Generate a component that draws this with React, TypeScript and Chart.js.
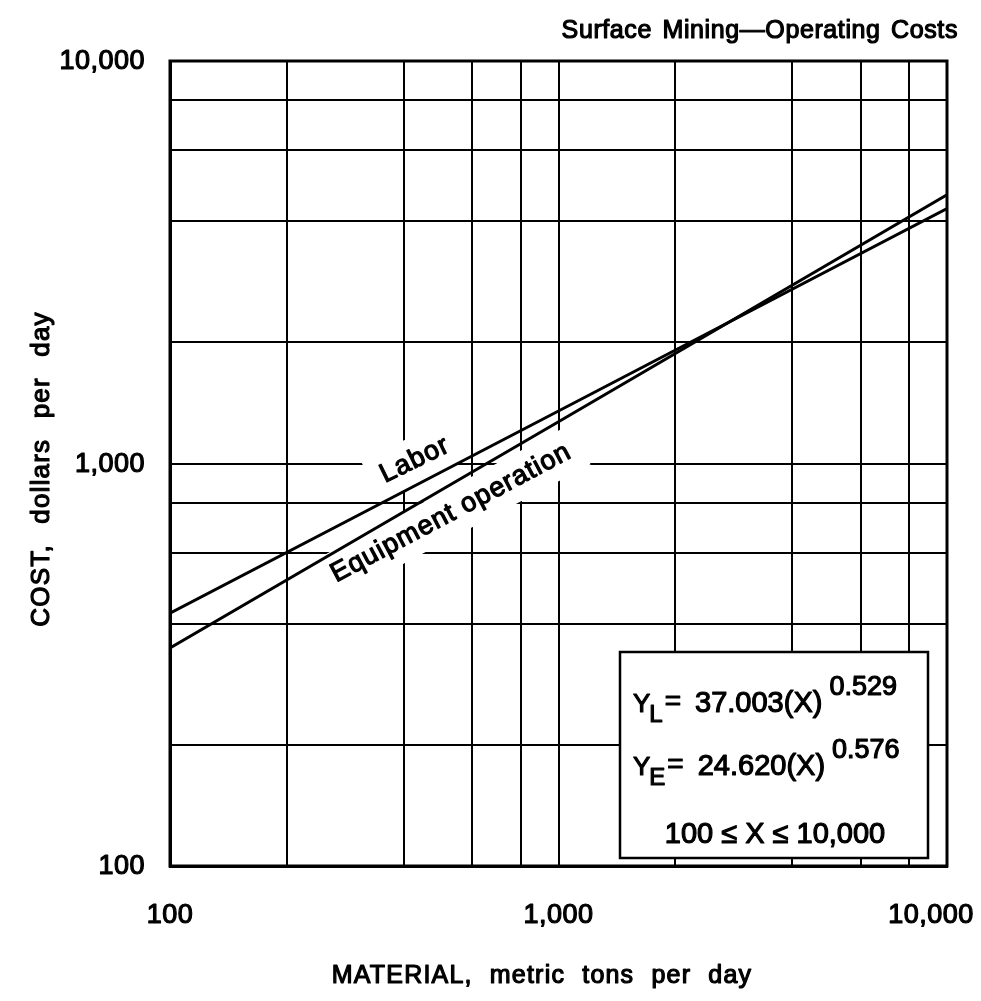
import React, { useEffect, useRef } from "react";
import { Chart, registerables } from "chart.js";

Chart.register(...registerables);

// ---- data ----
const materialTons = [100, 1000, 10000];
const laborCost = [425, 1350, 4300];
const equipmentCost = [348, 1270, 4650];

const gridTickValues = [100, 200, 400, 600, 800, 1000, 2000, 4000, 6000, 8000, 10000];
const labeledTickValues = [100, 1000, 10000];
const labeledTickTexts = ["100", "1,000", "10,000"];

const chartTitle = "Surface Mining\u2014Operating Costs";
const xAxisTitle = "MATERIAL, metric tons per day";
const yAxisTitle = "COST, dollars per day";
const curveLabels = ["Labor", "Equipment operation"];

const eqLabor = { sub: "L", coef: "37.003(X)", exp: "0.529" };
const eqEquip = { sub: "E", coef: "24.620(X)", exp: "0.576" };
const eqRange = "100 \u2264 X \u2264 10,000";

const FONT = '"Liberation Sans", Arial, sans-serif';
const W = 981;
const H = 1001;

type TextOpts = {
  size: number;
  align?: CanvasTextAlign;
  baseline?: CanvasTextBaseline;
  ls?: number;
  ws?: number;
  rot?: number;
  heavy?: number;
};

function drawText(ctx: CanvasRenderingContext2D, text: string, x: number, y: number, o: TextOpts) {
  ctx.save();
  ctx.translate(x, y);
  if (o.rot) ctx.rotate((o.rot * Math.PI) / 180);
  ctx.font = `${o.size}px ${FONT}`;
  (ctx as any).letterSpacing = `${o.ls ?? 0}px`;
  (ctx as any).wordSpacing = `${o.ws ?? 0}px`;
  ctx.textAlign = o.align ?? "left";
  ctx.textBaseline = o.baseline ?? "alphabetic";
  ctx.fillStyle = "#000";
  ctx.strokeStyle = "#000";
  ctx.lineWidth = o.heavy ?? 1.2;
  ctx.lineJoin = "round";
  ctx.fillText(text, 0, 0);
  ctx.strokeText(text, 0, 0);
  const w = ctx.measureText(text).width;
  ctx.restore();
  return w;
}

function measure(ctx: CanvasRenderingContext2D, text: string, size: number, ls = 0) {
  ctx.save();
  ctx.font = `${size}px ${FONT}`;
  (ctx as any).letterSpacing = `${ls}px`;
  const w = ctx.measureText(text).width;
  ctx.restore();
  return w;
}

const LABEL_SIZE = 27;
const curveLabelPlacement = [
  { x: 427, y: 1020, rot: -26 },
  { x: 529, y: 753, rot: -28 },
];

function curveLabelBoxes(chart: any, ctx: CanvasRenderingContext2D, draw: boolean) {
  const xs = chart.scales.x;
  const ys = chart.scales.y;
  curveLabels.forEach((t, i) => {
    const p = curveLabelPlacement[i];
    const px = xs.getPixelForValue(p.x);
    const py = ys.getPixelForValue(p.y);
    if (draw) {
      drawText(ctx, t, px, py, { size: LABEL_SIZE, align: "center", baseline: "middle", rot: p.rot, ls: 1 });
    } else {
      const w = measure(ctx, t, LABEL_SIZE, 1);
      ctx.save();
      ctx.translate(px, py);
      ctx.rotate((p.rot * Math.PI) / 180);
      ctx.fillStyle = "#fff";
      ctx.fillRect(-w / 2 - 12, -LABEL_SIZE / 2 - 9, w + 24, LABEL_SIZE + 18);
      ctx.restore();
    }
  });
}

function drawEquation(ctx: CanvasRenderingContext2D, eq: { sub: string; coef: string; exp: string }, x: number, baseline: number) {
  let cx = x;
  cx += drawText(ctx, "Y", cx, baseline, { size: 26 }) - 1;
  cx += drawText(ctx, eq.sub, cx, baseline + 10, { size: 24 }) + 2;
  cx += drawText(ctx, "=", cx, baseline - 2, { size: 28 });
  cx += 14;
  cx += drawText(ctx, eq.coef, cx, baseline, { size: 29 }) + 7;
  drawText(ctx, eq.exp, cx, baseline - 17, { size: 27 });
}

const annotationPlugin = {
  id: "annotations",
  beforeDraw(chart: any) {
    const ctx = chart.ctx as CanvasRenderingContext2D;
    ctx.save();
    ctx.fillStyle = "#fff";
    ctx.fillRect(0, 0, chart.width, chart.height);
    ctx.restore();
  },
  beforeDatasetsDraw(chart: any) {
    curveLabelBoxes(chart, chart.ctx, false);
  },
  afterDraw(chart: any) {
    const ctx = chart.ctx as CanvasRenderingContext2D;
    const xs = chart.scales.x;
    const ys = chart.scales.y;
    const ca = chart.chartArea;
    ctx.save();

    // plot frame
    ctx.strokeStyle = "#000";
    ctx.lineWidth = 3;
    ctx.strokeRect(ca.left, ca.top, ca.right - ca.left, ca.bottom - ca.top);

    // curve labels
    curveLabelBoxes(chart, ctx, true);

    // title
    drawText(ctx, chartTitle, 958, 31, { size: 25, align: "right", baseline: "middle", ls: 0.6, ws: 3 });

    // y tick labels
    labeledTickValues.forEach((v, i) => {
      drawText(ctx, labeledTickTexts[i], 145, ys.getPixelForValue(v) + 1, {
        size: 27, align: "right", baseline: "middle", ls: 0.5,
      });
    });

    // x tick labels
    labeledTickValues.forEach((v, i) => {
      const off = i === labeledTickValues.length - 1 ? -16 : 0;
      drawText(ctx, labeledTickTexts[i], xs.getPixelForValue(v) + off, 916, {
        size: 27, align: "center", baseline: "middle", ls: 0.5,
      });
    });

    // axis titles
    drawText(ctx, xAxisTitle, 542, 976, { size: 25, align: "center", baseline: "middle", ls: 1.2, ws: 9 });
    drawText(ctx, yAxisTitle, 42, 469, { size: 26, align: "center", baseline: "middle", ls: 1.2, ws: 12, rot: -90 });

    // equation box
    const bx = 620, by = 652, bw = 308, bh = 206;
    ctx.fillStyle = "#fff";
    ctx.fillRect(bx, by, bw, bh);
    ctx.strokeStyle = "#000";
    ctx.lineWidth = 2.5;
    ctx.strokeRect(bx, by, bw, bh);
    drawEquation(ctx, eqLabor, 633, 712);
    drawEquation(ctx, eqEquip, 633, 775);
    drawText(ctx, eqRange, bx + bw / 2 + 1, 843, { size: 29, align: "center" });

    ctx.restore();
  },
};

export default function App() {
  const canvasRef = useRef<HTMLCanvasElement | null>(null);

  useEffect(() => {
    const canvas = canvasRef.current;
    if (!canvas) return;
    const chart = new Chart(canvas, {
      type: "scatter",
      data: {
        datasets: [
          {
            label: curveLabels[0],
            data: materialTons.map((x, i) => ({ x, y: laborCost[i] })),
            showLine: true,
            borderColor: "#000",
            borderWidth: 3,
            pointRadius: 0,
          },
          {
            label: curveLabels[1],
            data: materialTons.map((x, i) => ({ x, y: equipmentCost[i] })),
            showLine: true,
            borderColor: "#000",
            borderWidth: 3,
            pointRadius: 0,
          },
        ],
      },
      options: {
        responsive: false,
        animation: false,
        devicePixelRatio: 1,
        layout: { padding: { top: 61, right: 34, left: 0, bottom: 0 } },
        plugins: {
          legend: { display: false },
          tooltip: { enabled: false },
          title: { display: false },
        },
        scales: {
          x: {
            type: "logarithmic",
            min: 100,
            max: 10000,
            position: "bottom",
            afterBuildTicks: (s: any) => {
              s.ticks = gridTickValues.map((v) => ({ value: v }));
            },
            afterFit: (s: any) => {
              s.height = 135;
            },
            grid: { color: "#000", lineWidth: 2, drawTicks: false },
            border: { display: true, color: "#000", width: 3 },
            ticks: { display: false },
          },
          y: {
            type: "logarithmic",
            min: 100,
            max: 10000,
            position: "left",
            afterBuildTicks: (s: any) => {
              s.ticks = gridTickValues.map((v) => ({ value: v }));
            },
            afterFit: (s: any) => {
              s.width = 170;
            },
            grid: { color: "#000", lineWidth: 2, drawTicks: false },
            border: { display: true, color: "#000", width: 3 },
            ticks: { display: false },
          },
        },
      },
      plugins: [annotationPlugin],
    } as any);
    return () => chart.destroy();
  }, []);

  return (
    <div style={{ position: "absolute", left: 0, top: 0, width: W, height: H }}>
      <canvas ref={canvasRef} width={W} height={H} style={{ display: "block" }} />
    </div>
  );
}
